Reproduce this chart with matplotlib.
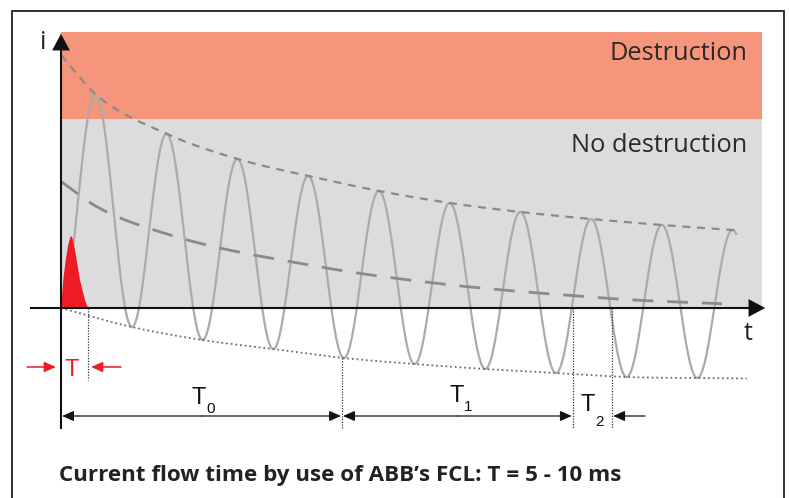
import numpy as np
import matplotlib
matplotlib.use("Agg")
import matplotlib.pyplot as plt
from matplotlib.patches import Rectangle, FancyArrowPatch

# ---------------- data (time in ms, current in relative units) ----------------
period_ms = 20.0
peak_t = [0, 10, 30, 50, 70, 90, 110, 130, 150, 170, 190]
peak_i = [5.06, 4.26, 3.48, 2.98, 2.64, 2.34, 2.10, 1.92, 1.78, 1.66, 1.56]
trough_t = [0, 20, 40, 60, 80, 100, 120, 140, 160, 180, 194]
trough_i = [0.0, -0.38, -0.64, -0.82, -1.00, -1.12, -1.22, -1.30, -1.38, -1.40, -1.41]
wave_end = 191.0
spike_t = [0, 0.65, 1.33, 1.98, 2.55, 2.83, 3.25, 3.96, 5.37, 6.79, 7.64]
spike_i = [0, 0.56, 0.96, 1.24, 1.40, 1.44, 1.40, 1.16, 0.56, 0.16, 0.0]
destruction_level = 3.78
zone_top = 5.52
zone_end = 198.3
T_end = 7.64
T0_end = 79.5
T1_end = 144.8
T2_end = 155.9

# ---------------- helpers ----------------
def hermite(xk, yk, x):
    xk = np.asarray(xk, float); yk = np.asarray(yk, float)
    d = np.diff(yk) / np.diff(xk)
    m = np.empty_like(yk)
    m[0] = d[0]; m[-1] = d[-1]
    m[1:-1] = (d[:-1] + d[1:]) / 2
    idx = np.clip(np.searchsorted(xk, x) - 1, 0, len(xk) - 2)
    h = xk[idx + 1] - xk[idx]
    s = (x - xk[idx]) / h
    h00 = 2*s**3 - 3*s**2 + 1; h10 = s**3 - 2*s**2 + s
    h01 = -2*s**3 + 3*s**2; h11 = s**3 - s**2
    return h00*yk[idx] + h10*h*m[idx] + h01*yk[idx+1] + h11*h*m[idx+1]

W, H = 789, 498
fig = plt.figure(figsize=(W/100, H/100), dpi=100)
ax = fig.add_axes([0, 0, 1, 1])
PXT = 3.535   # px per ms
PXI = 50.0    # px per unit
X0, Y0 = 61, 308
ax.set_xlim(-X0/PXT, (W - X0)/PXT)
ax.set_ylim((Y0 - H)/PXI, Y0/PXI)
ax.axis("off")

def px(x, y):
    return ((x - X0)/PXT, (Y0 - y)/PXI)

# outer frame (open at bottom)
fr = [px(12, 498), px(12, 11), px(784, 11), px(784, 498)]
ax.plot([p[0] for p in fr], [p[1] for p in fr], color="#222222", lw=1.3,
        solid_joinstyle="miter", zorder=1)

# zones
ax.add_patch(Rectangle((0, destruction_level), zone_end, zone_top - destruction_level,
                       facecolor="#F5967C", edgecolor="none", zorder=1))
ax.add_patch(Rectangle((0, 0), zone_end, destruction_level,
                       facecolor="#DCDCDE", edgecolor="none", zorder=1))

# envelopes + waveform
t = np.linspace(0, wave_end, 3000)
U = hermite(peak_t, peak_i, t)
L = hermite(trough_t, trough_i, t)
mid = (U + L) / 2
half = (U - L) / 2
wave = mid - half*np.cos(2*np.pi*t/period_ms)
ax.plot(t, wave, color="#ABABAB", lw=1.6, zorder=3)

tu = np.linspace(0, 192, 500)
ax.plot(tu, hermite(peak_t, peak_i, tu), color="#8A8A8A", lw=1.6,
        dashes=(3.6, 3.0), zorder=4)
tm = np.linspace(0, 187, 500)
ax.plot(tm, (hermite(peak_t, peak_i, tm) + hermite(trough_t, trough_i, tm))/2,
        color="#8A8A8A", lw=2.0, dashes=(7.5, 5), zorder=4)
tl = np.linspace(0, 194, 500)
ax.plot(tl, hermite(trough_t, trough_i, tl), color="#6E6E6E", lw=1.3,
        dashes=(1.0, 1.6), zorder=4)

# red spike
ax.fill(spike_t + [spike_t[0]], spike_i + [spike_i[0]], color="#EE1C25", lw=0, zorder=5)

# axes
ax.plot([px(31, 0)[0], px(758, 0)[0]], [0, 0], color="#111111", lw=1.5, zorder=6)
ax.plot([0, 0], [px(0, 428)[1], px(0, 42)[1]], color="#111111", lw=1.5, zorder=6)
ax.add_patch(FancyArrowPatch(px(755, 308), px(768, 308), arrowstyle="-|>,head_length=6,head_width=3.2",
                             color="#111111", lw=0, mutation_scale=2, zorder=6))
ax.add_patch(FancyArrowPatch(px(61, 45), px(61, 31), arrowstyle="-|>,head_length=6,head_width=3.2",
                             color="#111111", lw=0, mutation_scale=2, zorder=6))

# vertical dotted markers
vd = dict(color="#333333", lw=0.9, dashes=(1, 1.2), zorder=5)
ax.plot([T_end, T_end], [0, px(0, 380)[1]], **vd)
ax.plot([T0_end, T0_end], [hermite(trough_t, trough_i, np.array([80.0]))[0], px(0, 428)[1]], **vd)
ax.plot([T1_end, T1_end], [0, px(0, 428)[1]], **vd)
ax.plot([T2_end, T2_end], [0, px(0, 428)[1]], **vd)

# dimension arrows
ya = px(0, 416)[1]
def arr(x1, x2, y, color="#111111", lw=0.9):
    ax.add_patch(FancyArrowPatch((x1, y), (x2, y), arrowstyle="-|>,head_length=5,head_width=2.2",
                                 color=color, lw=lw, mutation_scale=1.4, shrinkA=0, shrinkB=0, zorder=6))
mid0 = T0_end/2
arr(mid0, 0.3, ya); arr(mid0, T0_end - 0.3, ya)
mid1 = (T0_end + T1_end)/2
arr(mid1, T0_end + 0.3, ya); arr(mid1, T1_end - 0.3, ya)
arr(px(645, 0)[0], T2_end + 0.3, ya)

yr = px(0, 367)[1]
arr(px(27, 0)[0], px(56, 0)[0], yr, color="#EE1C25", lw=1.1)
arr(px(121, 0)[0], px(91, 0)[0], yr, color="#EE1C25", lw=1.1)

# texts
lab = dict(family=["Liberation Sans", "DejaVu Sans"], color="#111111")
ax.text(*px(72, 370), "T", color="#EE1C25", fontsize=17, ha="center", va="center",
        family=["Liberation Sans", "DejaVu Sans"], zorder=7)
ax.text(*px(199, 398), "T", fontsize=17, ha="center", va="center", **lab)
ax.text(*px(206, 409), "0", fontsize=11, ha="left", va="center", **lab)
ax.text(*px(457, 396), "T", fontsize=17, ha="center", va="center", **lab)
ax.text(*px(464, 407), "1", fontsize=11, ha="left", va="center", **lab)
ax.text(*px(588, 405), "T", fontsize=17, ha="center", va="center", **lab)
ax.text(*px(595, 422), "2", fontsize=11, ha="left", va="center", **lab)

gf = ["Open Sans", "DejaVu Sans"]
ax.text(*px(43, 42), "i", fontsize=18, ha="center", va="center", family=gf, color="#222222")
ax.text(*px(748, 333), "t", fontsize=18, ha="center", va="center", family=gf, color="#222222")
ax.text(*px(747, 53), "Destruction", fontsize=18.3, ha="right", va="center", family=gf, color="#2A2A2A")
ax.text(*px(747, 145), "No destruction", fontsize=18.3, ha="right", va="center", family=gf, color="#2A2A2A")
ax.text(*px(59, 475), "Current flow time by use of ABB\u2019s FCL: T = 5 - 10 ms", fontsize=16.1,
        fontweight="bold", ha="left", va="center", family=gf, color="#222222")

fig.savefig("out.png", dpi=100)
